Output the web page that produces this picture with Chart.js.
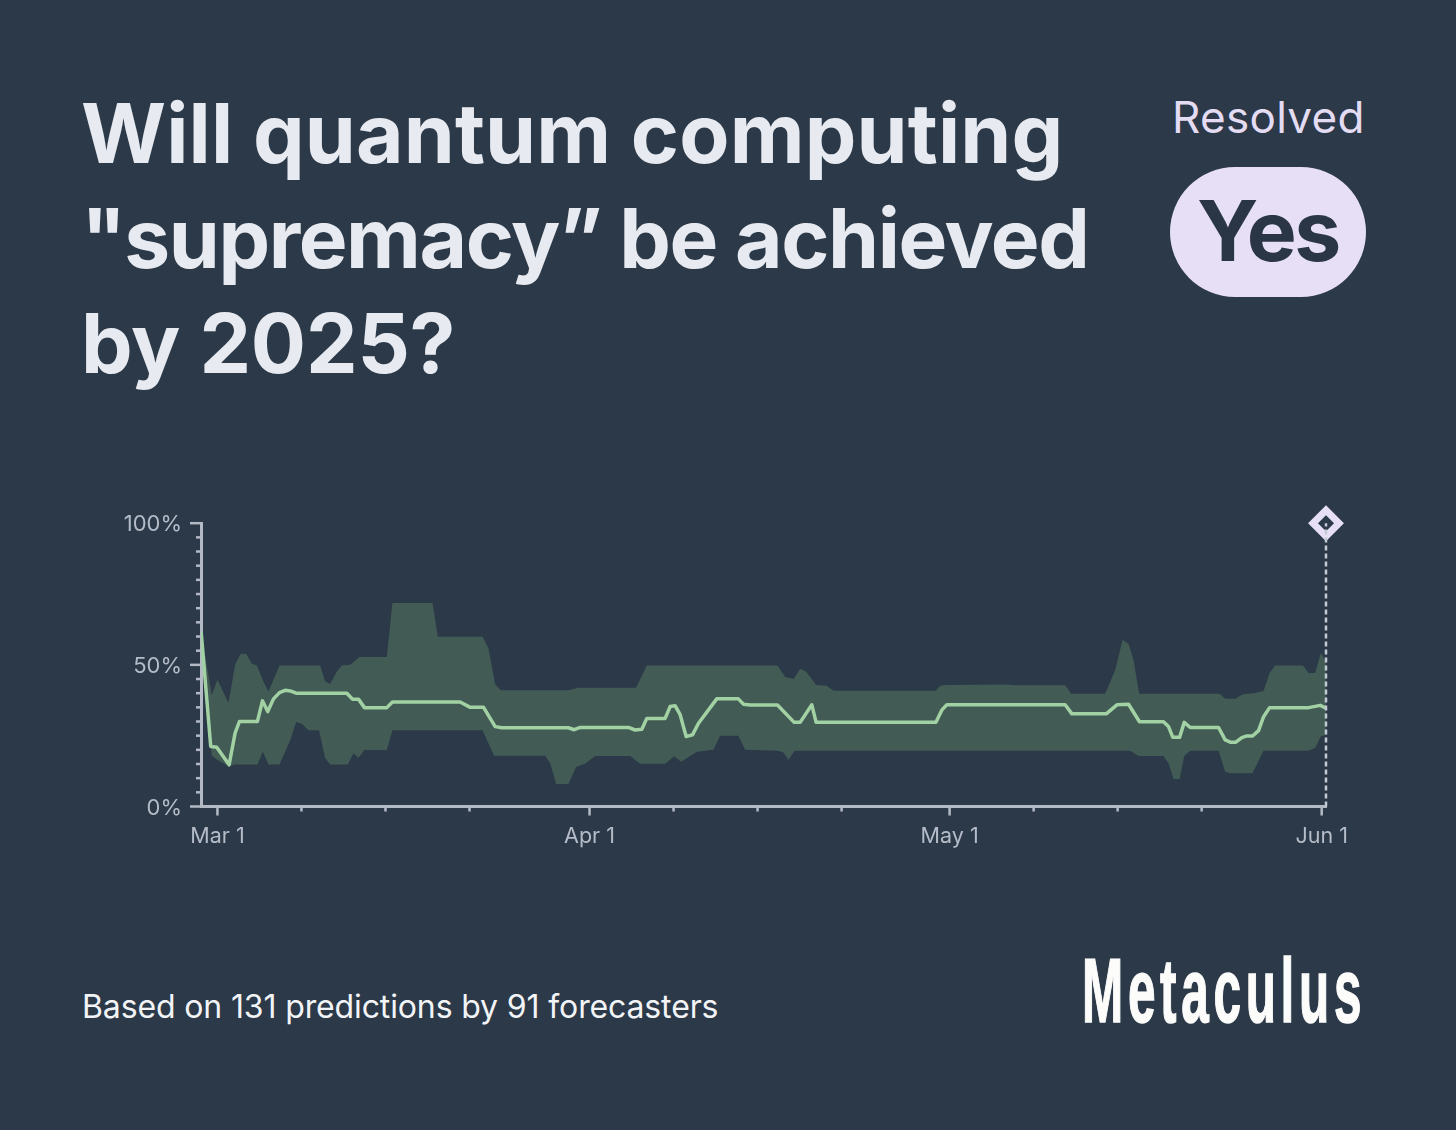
<!DOCTYPE html>
<html>
<head>
<meta charset="utf-8">
<script src="https://cdn.jsdelivr.net/npm/chart.js@4"></script>
<style>
    html, body { margin: 0; padding: 0; background: #2c3948; }
    body { width: 1456px; height: 1130px; position: relative; overflow: hidden; font-family: Inter, sans-serif; }
    .abs { position: absolute; white-space: nowrap; }
    #question { left: 81px; top: 81px; font-size: 82px; line-height: 105px; font-weight: 650; color: #e7eaf0; }
    #question span { display: block; }
    #line_1 { letter-spacing: 0.15px; }
    #line_2 { letter-spacing: -1.4px; }
    #line_3 { letter-spacing: -0.2px; }
    #resolved { left: 1172px; top: 91px; font-size: 44px; line-height: 52px; color: #e4dcf3; letter-spacing: 0.3px; }
    #pill { left: 1170px; top: 167px; width: 196px; height: 130px; border-radius: 65px; background: #e6dff5; color: #2a3546; font-size: 84px; font-weight: 700; line-height: 127px; text-align: center; letter-spacing: -2.5px; }
    #footer { left: 82px; top: 986px; font-size: 32px; line-height: 42px; color: #f2f4f7; letter-spacing: -0.13px; }
    #brand { left: 1082px; top: 941px; font-family: "Liberation Sans Narrow", "Liberation Sans", sans-serif; font-weight: 700; font-size: 90px; line-height: 100px; color: #fcfcfb; letter-spacing: 8.5px; -webkit-text-stroke: 1.5px #fcfcfb; transform-origin: left top; transform: scaleX(0.55); }
    #chart_box { position: absolute; left: 100px; top: 491px; width: 1270px; height: 370px; }
</style>
</head>
<body>
<div class="abs" id="question"><span id="line_1">Will quantum computing</span><span id="line_2">"supremacy” be achieved</span><span id="line_3">by 2025?</span></div>
<div class="abs" id="resolved">Resolved</div>
<div class="abs" id="pill">Yes</div>
<div class="abs" id="footer">Based on 131 predictions by 91 forecasters</div>
<div class="abs" id="brand">Metaculus</div>
<div id="chart_box"><canvas id="forecast_chart" width="1270" height="370"></canvas></div>

<script>
// days are counted from Mar 1
const median_days = [-1.36, -0.56, -0.06, 0.97, 1.47, 1.83, 3.33, 3.75, 4.19, 4.67, 5.17, 5.64, 6.06, 6.56, 10.78, 11.25, 11.75, 12.25, 14.11, 14.58, 20.22, 21.06, 22.17, 23.14, 23.69, 29.24, 29.72, 30.22, 34.24, 34.8, 35.36, 35.77, 37.3, 37.72, 38.13, 38.55, 39.05, 39.58, 40.08, 41.6, 43.4, 43.83, 44.38, 46.66, 48.05, 48.55, 49.52, 49.88, 59.86, 60.36, 60.77, 70.63, 71.19, 74.05, 74.94, 75.91, 76.82, 78.82, 79.24, 79.6, 80.16, 80.55, 81.05, 83.41, 83.96, 84.38, 84.85, 85.35, 85.77, 86.24, 86.74, 87.16, 87.66, 90.91, 91.88, 92.36];
const median_values = [61.8, 21.2, 20.9, 14.7, 25.9, 30, 30, 37.3, 33.5, 38, 40.2, 41, 40.8, 40, 40, 37.9, 37.9, 34.9, 34.9, 36.9, 36.9, 35, 35, 28.2, 27.8, 27.8, 27.1, 27.9, 27.9, 27, 27.3, 31.1, 31.1, 35.3, 35.6, 32.4, 24.7, 25.3, 29.4, 38, 38, 36.1, 35.8, 35.8, 29.7, 29.7, 35.9, 29.7, 29.7, 34.1, 35.9, 35.9, 32.7, 32.7, 35.9, 36.1, 29.9, 29.9, 28.2, 24.4, 24.4, 29.7, 27.9, 27.9, 23.5, 22.7, 22.7, 24.3, 24.9, 24.9, 26.8, 31.7, 34.9, 34.9, 35.7, 34.7];

const upper_days = [-1.36, -0.47, 0, 0.92, 1.47, 1.94, 2.39, 2.86, 3.28, 3.83, 4.25, 5.17, 8.56, 8.97, 9.39, 9.94, 10.36, 11.06, 11.83, 14.11, 14.58, 17.92, 18.36, 22.08, 22.58, 23.14, 23.61, 29.24, 30.08, 34.88, 35.77, 46.66, 47.3, 48, 48.55, 49.05, 49.88, 50.77, 51.33, 59.86, 60.21, 60.77, 65.77, 66.46, 70.63, 71.13, 73.96, 74.8, 75.41, 75.91, 76.32, 76.8, 83.49, 83.96, 84.8, 85.44, 86.46, 87.16, 87.66, 88.13, 90.44, 90.91, 91.46, 91.94, 92.36];
const upper_values = [61.8, 39.4, 44.7, 36.5, 50, 53.9, 53.9, 50.4, 49.8, 44.1, 40.6, 49.8, 49.8, 44.1, 43.2, 47.6, 49.8, 50, 52.8, 52.8, 71.8, 71.8, 59.9, 59.9, 55.9, 43.1, 41, 41, 41.9, 41.9, 49.8, 49.8, 45.7, 45, 48.6, 47.6, 42.9, 42.6, 40.9, 40.9, 42.6, 42.9, 43.1, 42.8, 42.8, 39.8, 39.8, 48.2, 58.8, 57.4, 51.8, 39.8, 39.8, 38, 38, 39.6, 40.1, 40.8, 47.1, 49.8, 49.8, 47.1, 47.1, 54.4, 50.6];

const lower_days = [-1.36, -0.47, 0.08, 0.97, 1.47, 3.33, 3.78, 4.25, 5.17, 6.06, 6.56, 7.03, 7.58, 8.47, 8.97, 9.39, 10.86, 11.33, 11.75, 12.25, 14.11, 14.58, 22.08, 23.06, 27.3, 27.72, 28.22, 29.24, 29.88, 30.63, 31.47, 34.38, 35.22, 37.3, 38.05, 38.63, 39.94, 41.33, 41.88, 43.4, 43.97, 46.74, 47.16, 47.58, 48.08, 76.05, 76.74, 78.82, 79.24, 79.66, 80.16, 80.55, 81.05, 83.41, 83.96, 84.38, 86.24, 87.16, 90.91, 91.46, 91.94, 92.36];
const lower_values = [61.8, 17.9, 16.2, 14.1, 14.8, 14.8, 19.4, 14.8, 14.8, 23.3, 29.8, 29.2, 26.9, 26.9, 17.1, 14.8, 14.8, 18.8, 17.2, 19.9, 19.9, 26.9, 26.9, 17.9, 17.9, 15.3, 7.9, 7.9, 13.9, 15.1, 17.8, 17.8, 15.1, 15.1, 17.7, 15.8, 19.3, 20, 25, 25, 20, 19.7, 19.1, 16.5, 19.7, 19.7, 17.8, 17.8, 15.2, 9.7, 9.7, 17.8, 19.7, 19.7, 12.3, 11.7, 11.7, 19.7, 19.7, 20.7, 24.8, 25.3];

const x_major_days = [0, 31, 61, 92];
const x_major_labels = ['Mar 1', 'Apr 1', 'May 1', 'Jun 1'];
const x_minor_days = [7, 14, 21, 38, 45, 52, 68, 75, 82];
const y_major_values = [0, 50, 100];
const y_minor_values = [5, 10, 15, 20, 25, 30, 35, 40, 45, 55, 60, 65, 70, 75, 80, 85, 90, 95];
const resolve_day = 92.36;

const palette = {
    bg: '#2c3948',
    band: '#425c55',
    line: '#a2d1a4',
    axis: '#b3bac6',
    text: '#b4bcc8',
    marker: '#e6dff5',
};

function to_points(days, values) {
    return days.map((day, i) => ({ x: day, y: values[i] }));
}

// chart.js has one tickLength per axis, the picture has two
const tick_marks = {
    id: 'tick_marks',
    afterDatasetsDraw(chart) {
        const ctx = chart.ctx;
        const x_scale = chart.scales.x;
        const y_scale = chart.scales.y;
        ctx.save();
        ctx.strokeStyle = palette.axis;
        ctx.lineWidth = 2.5;
        x_major_days.forEach((d) => mark(ctx, x_scale.getPixelForValue(d), y_scale.bottom, 0, 9));
        x_minor_days.forEach((d) => mark(ctx, x_scale.getPixelForValue(d), y_scale.bottom, 0, 5));
        y_major_values.forEach((v) => mark(ctx, x_scale.left, y_scale.getPixelForValue(v), -11, 0));
        y_minor_values.forEach((v) => mark(ctx, x_scale.left, y_scale.getPixelForValue(v), -5, 0));
        ctx.restore();
    },
};

function mark(ctx, x, y, dx, dy) {
    ctx.beginPath();
    ctx.moveTo(x, y);
    ctx.lineTo(x + dx, y + dy);
    ctx.stroke();
}

new Chart(document.getElementById('forecast_chart').getContext('2d'), {
    type: 'scatter',
    data: {
        datasets: [
            {
                label: 'Upper quartile',
                data: to_points(upper_days, upper_values),
                showLine: true,
                borderWidth: 0,
                pointRadius: 0,
                backgroundColor: palette.band,
                fill: '+1',
                order: 4,
            },
            {
                label: 'Lower quartile',
                data: to_points(lower_days, lower_values),
                showLine: true,
                borderWidth: 0,
                pointRadius: 0,
                fill: false,
                order: 4,
            },
            {
                label: 'Median',
                data: to_points(median_days, median_values),
                showLine: true,
                borderColor: palette.line,
                borderWidth: 3.5,
                borderJoinStyle: 'round',
                pointRadius: 0,
                tension: 0,
                fill: false,
                order: 3,
            },
            {
                label: 'Resolution marker',
                data: [{ x: resolve_day, y: 100 }],
                pointStyle: 'rectRot',
                pointRadius: 13,
                pointBorderWidth: 7,
                pointBorderColor: palette.marker,
                pointBackgroundColor: palette.bg,
                clip: false,
                order: 2,
            },
            {
                label: 'Resolution',
                data: [{ x: resolve_day, y: 0 }, { x: resolve_day, y: 100 }],
                showLine: true,
                borderColor: '#c4cad4',
                borderWidth: 2.5,
                borderDash: [5, 3],
                pointRadius: 0,
                clip: false,
                order: 1,
            },
        ],
    },
    options: {
        responsive: false,
        animation: false,
        layout: { padding: { top: 16, right: 44, left: 0, bottom: 0 } },
        plugins: { legend: { display: false }, tooltip: { enabled: false } },
        scales: {
            x: {
                type: 'linear',
                min: -1.37,
                max: 92.36,
                afterBuildTicks(axis) {
                    axis.ticks = x_major_days.map((d) => ({ value: d }));
                },
                afterFit(axis) {
                    axis.height = 54.5;
                },
                grid: { display: false, drawTicks: false },
                border: { color: palette.axis, width: 3 },
                ticks: {
                    color: palette.text,
                    font: { family: 'Inter', size: 21.5 },
                    padding: 17,
                    maxRotation: 0,
                    autoSkip: false,
                    callback(value) {
                        return x_major_labels[x_major_days.indexOf(value)];
                    },
                },
            },
            y: {
                min: 0,
                max: 100,
                afterBuildTicks(axis) {
                    axis.ticks = y_major_values.map((v) => ({ value: v }));
                },
                afterFit(axis) {
                    axis.width = 101;
                },
                grid: { display: false, drawTicks: false },
                border: { color: palette.axis, width: 3 },
                ticks: {
                    color: palette.text,
                    font: { family: 'Inter', size: 22 },
                    padding: 19,
                    labelOffset: 1.5,
                    callback(value) {
                        return value + '%';
                    },
                },
            },
        },
    },
    plugins: [tick_marks],
});
</script>
</body>
</html>
